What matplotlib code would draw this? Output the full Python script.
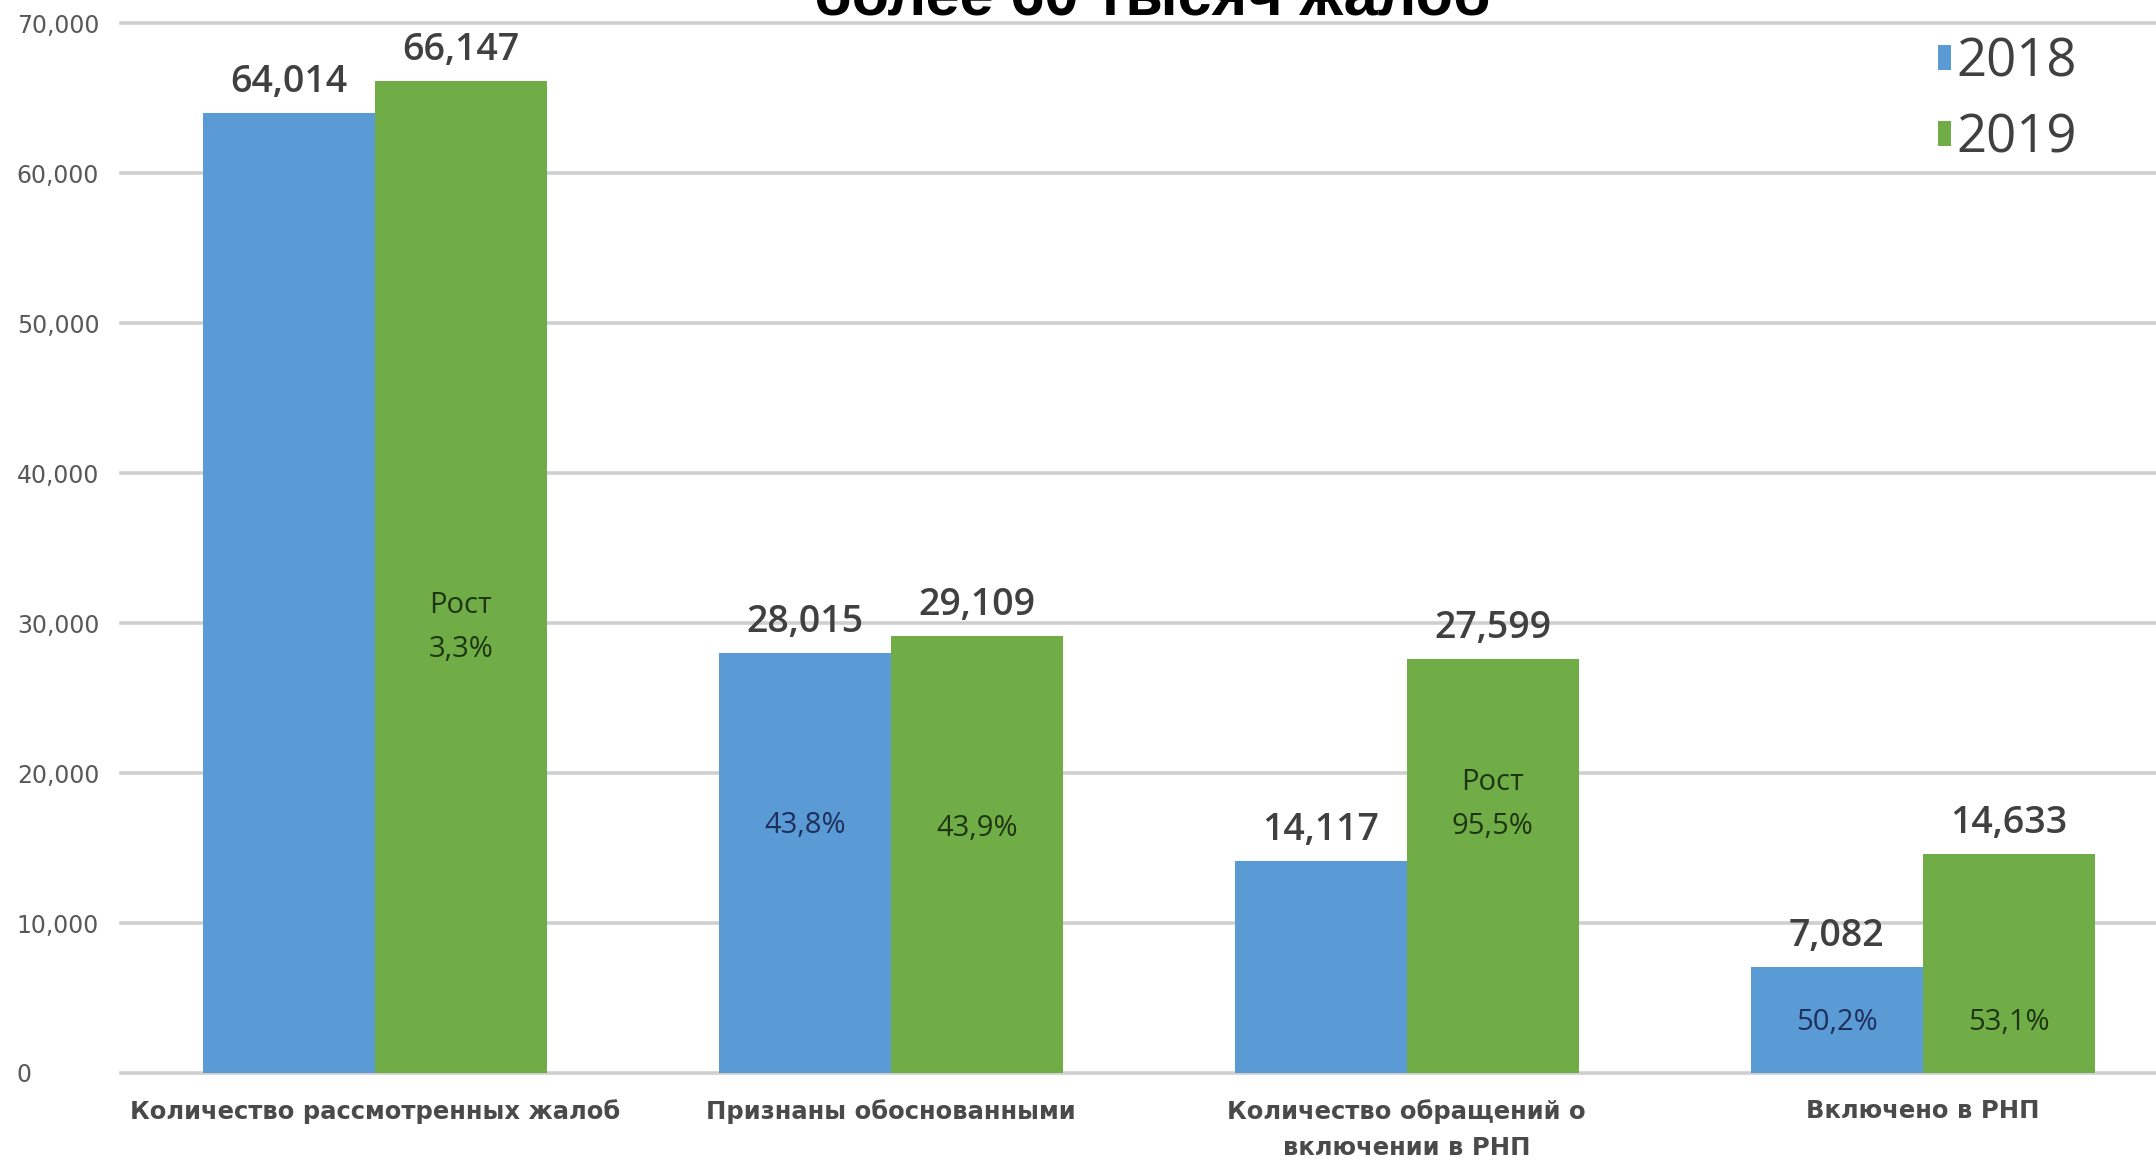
import matplotlib
matplotlib.use("Agg")
import matplotlib.pyplot as plt
from matplotlib.patches import Patch
import numpy as np

categories = ["Количество рассмотренных жалоб", "Признаны обоснованными",
              "Количество обращений о\nвключении в РНП", "Включено в РНП"]
series_names = ["2018", "2019"]
values_2018 = [64014, 28015, 14117, 7082]
values_2019 = [66147, 29109, 27599, 14633]
labels_2018 = ["64,014", "28,015", "14,117", "7,082"]
labels_2019 = ["66,147", "29,109", "27,599", "14,633"]
inner_2018 = ["", "43,8%", "", "50,2%"]
inner_2019 = ["Рост\n3,3%", "43,9%", "Рост\n95,5%", "53,1%"]
inner_y_2018 = [0, 16500, 0, 3400]
inner_y_2019 = [29700, 16300, 17900, 3400]
yticks = [0, 10000, 20000, 30000, 40000, 50000, 60000, 70000]
ytick_labels = ["0", "10,000", "20,000", "30,000", "40,000", "50,000", "60,000", "70,000"]
title = "более 60 тысяч жалоб"

BLUE = "#5b9bd5"
GREEN = "#70ad47"

W, H = 2156, 1162
fig = plt.figure(figsize=(W / 100, H / 100), dpi=100)
fig.patch.set_facecolor("white")
ax = fig.add_axes([121 / W, 1 - 1073 / H, 1 - 121 / W, (1073 - 23) / H])

x = np.arange(len(categories))
bw = 1 / 3
ax.bar(x - bw / 2, values_2018, bw, color=BLUE, zorder=3, label=series_names[0])
ax.bar(x + bw / 2, values_2019, bw, color=GREEN, zorder=3, label=series_names[1])

ax.set_xlim(-0.492, 3.452)
ax.set_ylim(0, 70000)

for s in ax.spines.values():
    s.set_visible(False)

ax.set_yticks(yticks)
ax.set_yticklabels(ytick_labels)
ax.tick_params(axis="y", length=0, pad=75, labelsize=17, labelcolor="#595959")
for t in ax.get_yticklabels():
    t.set_horizontalalignment("left")
ax.yaxis.grid(True, color="#cfcfcf", linewidth=2.6, zorder=1)
for gl in ax.get_ygridlines():
    gl.set_clip_on(False)
ax.set_axisbelow(True)

ax.set_xticks(x)
ax.set_xticklabels(categories, fontsize=17.5, fontweight="bold", color="#4a4a4a",
                   linespacing=1.6, va="top")
ax.tick_params(axis="x", length=0, pad=19)

lab_font = dict(fontsize=27, color="#404040", fontfamily="Open Sans", fontweight="semibold",
                ha="center", va="bottom")
for xi, v, lab in zip(x - bw / 2, values_2018, labels_2018):
    ax.annotate(lab, (xi, v), xytext=(0, 12), textcoords="offset pixels", **lab_font)
for xi, v, lab in zip(x + bw / 2, values_2019, labels_2019):
    ax.annotate(lab, (xi, v), xytext=(0, 12), textcoords="offset pixels", **lab_font)

in_font = dict(fontsize=21, fontfamily="Open Sans", ha="center", va="center", linespacing=1.65)
for xi, yv, lab in zip(x - bw / 2, inner_y_2018, inner_2018):
    if lab:
        ax.text(xi, yv, lab, color="#1f2f5c", **in_font)
for xi, yv, lab in zip(x + bw / 2, inner_y_2019, inner_2019):
    if lab:
        ax.text(xi, yv, lab, color="#1d3510", **in_font)

handles = [Patch(facecolor=BLUE, label=series_names[0]),
           Patch(facecolor=GREEN, label=series_names[1])]
leg = fig.legend(handles=handles, loc="upper left", bbox_to_anchor=(1938 / W, 1 - 36 / H),
                 frameon=False, prop={"family": "Open Sans", "size": 38},
                 handlelength=0.25, handleheight=0.35, handletextpad=0.1, labelspacing=0.42,
                 borderpad=0, borderaxespad=0)
for t in leg.get_texts():
    t.set_color("#404040")

fig.text(1152 / W, 1 - 16 / H, title, ha="center", va="baseline",
         fontsize=44, fontweight="bold", fontfamily="Liberation Sans", color="black")

fig.savefig("out.png", dpi=100, facecolor="white")
